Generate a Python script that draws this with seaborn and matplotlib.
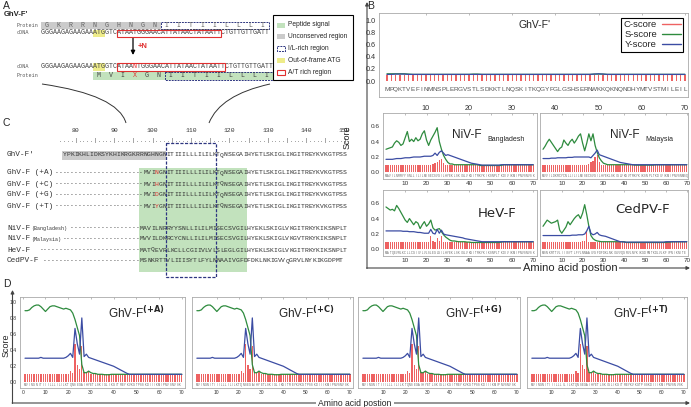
import matplotlib
matplotlib.use('Agg')
import matplotlib.pyplot as plt
from matplotlib.patches import Rectangle, PathPatch
from matplotlib.path import Path
from matplotlib.lines import Line2D
import seaborn as sns

sns.set_style('white')
plt.rcParams['font.family'] = ['Liberation Sans', 'DejaVu Sans']
MONO = 'Liberation Mono'

# ---------------- data ----------------
pos = list(range(1, 71))

# B, top panel (GhV-F')
c_ghv1 = [0.10, 0.10, 0.10, 0.10, 0.10, 0.10, 0.10, 0.10, 0.10, 0.10,
          0.10, 0.10, 0.10, 0.10, 0.10, 0.10, 0.10, 0.10, 0.10, 0.10,
          0.10, 0.10, 0.10, 0.10, 0.10, 0.10, 0.10, 0.10, 0.10, 0.10,
          0.10, 0.10, 0.10, 0.10, 0.10, 0.10, 0.10, 0.10, 0.10, 0.10,
          0.10, 0.10, 0.10, 0.10, 0.10, 0.10, 0.10, 0.10, 0.10, 0.10,
          0.10, 0.10, 0.10, 0.10, 0.10, 0.10, 0.10, 0.10, 0.10, 0.10,
          0.10, 0.10, 0.10, 0.10, 0.10, 0.10, 0.10, 0.10, 0.10, 0.10]
s_ghv1 = [0.12, 0.12, 0.12, 0.12, 0.12, 0.115, 0.11, 0.11, 0.11, 0.11,
          0.11, 0.11, 0.11, 0.11, 0.11, 0.11, 0.11, 0.11, 0.11, 0.11,
          0.115, 0.115, 0.11, 0.11, 0.11, 0.11, 0.11, 0.11, 0.11, 0.11,
          0.11, 0.11, 0.11, 0.11, 0.11, 0.11, 0.11, 0.11, 0.11, 0.11,
          0.11, 0.11, 0.11, 0.11, 0.11, 0.11, 0.11, 0.11, 0.115, 0.115,
          0.115, 0.11, 0.11, 0.11, 0.11, 0.11, 0.11, 0.11, 0.11, 0.11,
          0.11, 0.11, 0.11, 0.11, 0.11, 0.11, 0.11, 0.11, 0.11, 0.11]
y_ghv1 = [0.11, 0.11, 0.115, 0.115, 0.115, 0.11, 0.11, 0.11, 0.11, 0.11,
          0.11, 0.11, 0.11, 0.11, 0.11, 0.11, 0.11, 0.11, 0.11, 0.11,
          0.11, 0.11, 0.11, 0.11, 0.11, 0.11, 0.11, 0.11, 0.11, 0.11,
          0.11, 0.11, 0.11, 0.11, 0.11, 0.11, 0.11, 0.11, 0.11, 0.11,
          0.11, 0.11, 0.11, 0.11, 0.11, 0.11, 0.11, 0.11, 0.115, 0.12,
          0.115, 0.11, 0.11, 0.11, 0.11, 0.11, 0.11, 0.11, 0.11, 0.11,
          0.11, 0.11, 0.11, 0.11, 0.11, 0.11, 0.11, 0.11, 0.11, 0.11]
seq_ghv1 = "MPQKTVEFINMNSPLERGVSTLSDKKTLNQSKITKQGYFGLGSHSERNWKKQKNQNDHYMTVSTMILEIL"

# B, NiV-F Bangladesh
c_nivb = [0.10, 0.10, 0.10, 0.10, 0.10, 0.10, 0.10, 0.10, 0.10, 0.10,
          0.10, 0.10, 0.10, 0.10, 0.10, 0.10, 0.10, 0.10, 0.10, 0.10,
          0.10, 0.10, 0.11, 0.12, 0.14, 0.16, 0.18, 0.12, 0.10, 0.10,
          0.10, 0.10, 0.10, 0.10, 0.10, 0.10, 0.10, 0.10, 0.10, 0.10,
          0.10, 0.10, 0.10, 0.10, 0.10, 0.10, 0.10, 0.10, 0.10, 0.10,
          0.10, 0.10, 0.10, 0.10, 0.10, 0.10, 0.10, 0.10, 0.10, 0.10,
          0.10, 0.10, 0.10, 0.10, 0.10, 0.10, 0.10, 0.10, 0.10, 0.10]
s_nivb = [0.30, 0.31, 0.32, 0.33, 0.38, 0.41, 0.39, 0.35, 0.37, 0.45,
          0.53, 0.40, 0.43, 0.40, 0.45, 0.41, 0.43, 0.50, 0.54, 0.42,
          0.35, 0.42, 0.47, 0.52, 0.58, 0.40, 0.30, 0.22, 0.17, 0.13,
          0.11, 0.11, 0.10, 0.10, 0.10, 0.10, 0.10, 0.10, 0.10, 0.10,
          0.10, 0.10, 0.10, 0.10, 0.09, 0.09, 0.09, 0.09, 0.09, 0.09,
          0.09, 0.09, 0.09, 0.09, 0.09, 0.10, 0.10, 0.10, 0.10, 0.10,
          0.10, 0.10, 0.10, 0.10, 0.10, 0.10, 0.10, 0.10, 0.10, 0.10]
y_nivb = [0.17, 0.17, 0.17, 0.17, 0.175, 0.18, 0.18, 0.18, 0.185, 0.19,
          0.19, 0.19, 0.195, 0.20, 0.20, 0.20, 0.20, 0.205, 0.21, 0.21,
          0.21, 0.21, 0.22, 0.25, 0.22, 0.26, 0.28, 0.25, 0.22, 0.23,
          0.22, 0.21, 0.20, 0.19, 0.18, 0.17, 0.16, 0.15, 0.14, 0.13,
          0.12, 0.115, 0.11, 0.105, 0.10, 0.095, 0.095, 0.095, 0.095, 0.095,
          0.095, 0.095, 0.095, 0.095, 0.10, 0.10, 0.10, 0.10, 0.10, 0.10,
          0.10, 0.10, 0.10, 0.10, 0.10, 0.10, 0.10, 0.10, 0.10, 0.10]
seq_nivb = "MAVILNRRYYSNLLILILMISECSVGILHYEKLSKIGLVKGITRKYKIKSNPLTKDIVIKMIPNVSNVSK"

# B, NiV-F Malaysia
c_nivm = [0.10, 0.10, 0.10, 0.10, 0.10, 0.10, 0.10, 0.10, 0.10, 0.10,
          0.10, 0.10, 0.10, 0.10, 0.10, 0.10, 0.10, 0.10, 0.10, 0.10,
          0.10, 0.10, 0.11, 0.13, 0.15, 0.20, 0.22, 0.14, 0.10, 0.10,
          0.10, 0.10, 0.10, 0.10, 0.10, 0.10, 0.10, 0.10, 0.10, 0.10,
          0.10, 0.10, 0.10, 0.10, 0.10, 0.10, 0.10, 0.10, 0.10, 0.10,
          0.10, 0.10, 0.10, 0.10, 0.10, 0.10, 0.10, 0.10, 0.10, 0.10,
          0.10, 0.10, 0.10, 0.10, 0.10, 0.10, 0.10, 0.10, 0.10, 0.10]
s_nivm = [0.30, 0.34, 0.39, 0.43, 0.39, 0.35, 0.31, 0.27, 0.31, 0.33,
          0.42, 0.38, 0.35, 0.40, 0.43, 0.38, 0.42, 0.47, 0.50, 0.38,
          0.28, 0.38, 0.50, 0.41, 0.50, 0.35, 0.26, 0.19, 0.15, 0.12,
          0.11, 0.10, 0.10, 0.10, 0.10, 0.10, 0.10, 0.10, 0.10, 0.10,
          0.10, 0.10, 0.10, 0.10, 0.095, 0.095, 0.095, 0.095, 0.095, 0.095,
          0.095, 0.095, 0.095, 0.095, 0.10, 0.10, 0.10, 0.10, 0.10, 0.10,
          0.10, 0.10, 0.10, 0.10, 0.10, 0.10, 0.10, 0.10, 0.10, 0.10]
y_nivm = [0.18, 0.18, 0.18, 0.18, 0.185, 0.185, 0.185, 0.19, 0.19, 0.19,
          0.19, 0.19, 0.195, 0.195, 0.195, 0.20, 0.20, 0.20, 0.20, 0.20,
          0.20, 0.20, 0.20, 0.19, 0.22, 0.25, 0.29, 0.23, 0.22, 0.21,
          0.20, 0.19, 0.18, 0.17, 0.16, 0.15, 0.14, 0.13, 0.125, 0.12,
          0.115, 0.11, 0.105, 0.10, 0.10, 0.10, 0.10, 0.10, 0.10, 0.10,
          0.10, 0.10, 0.10, 0.10, 0.10, 0.10, 0.10, 0.10, 0.10, 0.10,
          0.10, 0.10, 0.10, 0.10, 0.10, 0.10, 0.10, 0.10, 0.10, 0.10]
seq_nivm = "MVVILDKRCYCNLLILILMISECSVGILHYEKLSKIGLVKGVTRKYKIKSNPLTKDIVIKMIPNVSNMSQ"

# B, HeV-F
c_hev = [0.10, 0.10, 0.10, 0.10, 0.10, 0.10, 0.10, 0.10, 0.10, 0.10,
         0.10, 0.10, 0.10, 0.10, 0.10, 0.10, 0.10, 0.10, 0.10, 0.10,
         0.10, 0.17, 0.11, 0.10, 0.15, 0.11, 0.17, 0.10, 0.10, 0.10,
         0.10, 0.10, 0.10, 0.10, 0.10, 0.10, 0.10, 0.10, 0.10, 0.10,
         0.10, 0.10, 0.10, 0.10, 0.10, 0.10, 0.10, 0.10, 0.10, 0.10,
         0.10, 0.10, 0.10, 0.10, 0.10, 0.10, 0.10, 0.10, 0.10, 0.10,
         0.10, 0.10, 0.10, 0.10, 0.10, 0.10, 0.10, 0.10, 0.10, 0.10]
s_hev = [0.55, 0.53, 0.51, 0.52, 0.50, 0.57, 0.53, 0.48, 0.43, 0.38,
         0.35, 0.40, 0.36, 0.32, 0.36, 0.34, 0.27, 0.32, 0.36, 0.30,
         0.33, 0.38, 0.28, 0.25, 0.26, 0.27, 0.23, 0.19, 0.16, 0.14,
         0.12, 0.11, 0.11, 0.105, 0.10, 0.10, 0.10, 0.10, 0.095, 0.095,
         0.09, 0.09, 0.09, 0.09, 0.09, 0.09, 0.09, 0.09, 0.09, 0.09,
         0.09, 0.09, 0.09, 0.09, 0.095, 0.10, 0.10, 0.10, 0.10, 0.10,
         0.10, 0.10, 0.10, 0.10, 0.10, 0.10, 0.10, 0.10, 0.10, 0.10]
y_hev = [0.24, 0.24, 0.24, 0.24, 0.24, 0.24, 0.24, 0.24, 0.235, 0.235,
         0.235, 0.23, 0.23, 0.23, 0.225, 0.22, 0.22, 0.215, 0.21, 0.21,
         0.21, 0.26, 0.21, 0.20, 0.26, 0.21, 0.25, 0.20, 0.19, 0.185,
         0.18, 0.175, 0.17, 0.165, 0.16, 0.155, 0.15, 0.14, 0.135, 0.13,
         0.125, 0.12, 0.115, 0.11, 0.105, 0.10, 0.10, 0.10, 0.10, 0.10,
         0.10, 0.10, 0.10, 0.10, 0.10, 0.10, 0.10, 0.10, 0.10, 0.10,
         0.10, 0.10, 0.10, 0.10, 0.10, 0.10, 0.10, 0.10, 0.10, 0.10]
seq_hev = "MATQEVRLKCLLCGIIVLVLSLEGLGILHYEKLSKIGLVKGITRKYKIKSNPLTKDIVIKMIPNVSNVSK"

# B, CedPV-F
c_ced = [0.10, 0.10, 0.10, 0.10, 0.10, 0.10, 0.10, 0.10, 0.10, 0.10,
         0.10, 0.10, 0.10, 0.10, 0.10, 0.10, 0.10, 0.10, 0.10, 0.11,
         0.11, 0.22, 0.10, 0.10, 0.10, 0.10, 0.10, 0.10, 0.10, 0.10,
         0.10, 0.10, 0.10, 0.10, 0.10, 0.10, 0.10, 0.10, 0.10, 0.10,
         0.10, 0.10, 0.10, 0.10, 0.10, 0.10, 0.10, 0.10, 0.10, 0.10,
         0.10, 0.10, 0.10, 0.10, 0.10, 0.10, 0.10, 0.10, 0.10, 0.10,
         0.10, 0.10, 0.10, 0.10, 0.10, 0.10, 0.10, 0.10, 0.10, 0.10]
s_ced = [0.30, 0.34, 0.38, 0.36, 0.34, 0.35, 0.36, 0.38, 0.25, 0.21,
         0.25, 0.29, 0.36, 0.32, 0.36, 0.40, 0.43, 0.45, 0.40, 0.47,
         0.58, 0.45, 0.30, 0.18, 0.14, 0.12, 0.11, 0.105, 0.10, 0.10,
         0.10, 0.10, 0.10, 0.10, 0.10, 0.10, 0.10, 0.10, 0.10, 0.10,
         0.09, 0.09, 0.09, 0.09, 0.09, 0.09, 0.09, 0.09, 0.09, 0.09,
         0.09, 0.09, 0.09, 0.09, 0.09, 0.09, 0.09, 0.09, 0.09, 0.09,
         0.095, 0.095, 0.10, 0.10, 0.10, 0.10, 0.10, 0.10, 0.10, 0.10]
y_ced = [0.18, 0.18, 0.18, 0.18, 0.18, 0.18, 0.18, 0.18, 0.18, 0.18,
         0.18, 0.18, 0.18, 0.18, 0.185, 0.185, 0.185, 0.19, 0.19, 0.19,
         0.20, 0.24, 0.30, 0.21, 0.19, 0.20, 0.22, 0.19, 0.18, 0.175,
         0.17, 0.16, 0.15, 0.14, 0.13, 0.12, 0.11, 0.10, 0.10, 0.095,
         0.095, 0.095, 0.095, 0.095, 0.095, 0.095, 0.095, 0.095, 0.095, 0.095,
         0.095, 0.095, 0.095, 0.095, 0.095, 0.095, 0.095, 0.095, 0.095, 0.10,
         0.10, 0.10, 0.10, 0.10, 0.10, 0.10, 0.10, 0.10, 0.10, 0.10]
seq_ced = "MSNKRTTVLIIISYTLFYLNNAAIVGFDFDKLNKIGVVQGRVLNYKIKGDPMTKDLVLKFIPNIKNITE"

# D, GhV-F frame-shift mutants (+A, +C, +G, +T)
c_mut = [0.10, 0.10, 0.10, 0.10, 0.10, 0.10, 0.10, 0.10, 0.10, 0.10,
         0.10, 0.10, 0.10, 0.10, 0.10, 0.10, 0.10, 0.10, 0.11, 0.11,
         0.14, 0.12, 0.48, 0.21, 0.16, 0.45, 0.13, 0.12, 0.13, 0.11,
         0.10, 0.10, 0.10, 0.10, 0.10, 0.10, 0.10, 0.10, 0.10, 0.10,
         0.10, 0.10, 0.10, 0.10, 0.10, 0.10, 0.10, 0.10, 0.10, 0.10,
         0.10, 0.10, 0.10, 0.10, 0.10, 0.10, 0.10, 0.10, 0.10, 0.10,
         0.10, 0.10, 0.10, 0.10, 0.10, 0.10, 0.10, 0.10, 0.10, 0.10]
s_mut = [0.89, 0.89, 0.90, 0.93, 0.95, 0.96, 0.96, 0.94, 0.91, 0.88,
         0.91, 0.94, 0.95, 0.95, 0.94, 0.93, 0.92, 0.91, 0.92, 0.91,
         0.90, 0.86, 0.78, 0.68, 0.58, 0.22, 0.12, 0.12, 0.14, 0.12,
         0.11, 0.11, 0.10, 0.10, 0.10, 0.095, 0.095, 0.095, 0.10, 0.10,
         0.10, 0.10, 0.10, 0.10, 0.10, 0.10, 0.10, 0.10, 0.10, 0.10,
         0.10, 0.10, 0.10, 0.10, 0.10, 0.10, 0.10, 0.10, 0.10, 0.10,
         0.10, 0.10, 0.10, 0.10, 0.10, 0.10, 0.10, 0.10, 0.10, 0.10]
y_mut = [0.30, 0.30, 0.30, 0.30, 0.30, 0.30, 0.30, 0.31, 0.30, 0.30,
         0.30, 0.30, 0.30, 0.30, 0.30, 0.30, 0.30, 0.30, 0.31, 0.33,
         0.36, 0.31, 0.67, 0.48, 0.35, 0.80, 0.32, 0.35, 0.31, 0.30,
         0.29, 0.28, 0.27, 0.26, 0.25, 0.24, 0.23, 0.22, 0.21, 0.20,
         0.185, 0.17, 0.155, 0.14, 0.125, 0.11, 0.10, 0.10, 0.10, 0.10,
         0.10, 0.10, 0.10, 0.10, 0.10, 0.10, 0.10, 0.10, 0.10, 0.10,
         0.10, 0.10, 0.10, 0.10, 0.10, 0.10, 0.10, 0.10, 0.10, 0.10]
seq_mut = "MVINGNITIIILLLILILKTQNSEGAIHYETLSKIGLIKGITREYKVKGTPSSKDIIIKMIPNVSNVSK"
mut_names = ['(+A)', '(+C)', '(+G)', '(+T)']

# A, nucleotide / protein rows
cdna1 = "GGGAAGAGAAGAAATGGTCATAATGGGAACATTATAACTATAATTCTGTTGTTGATT"
prot1 = "GKRRNGHNGNIITIILLLI"
cdna2 = "GGGAAGAGAAGAAATGGTCATAANTGGGAACATTATAACTATAATTCTGTTGTTGATT"
prot2 = "MVIXGNIITIILLLI"

# C, alignment rows: (label, sub-label, sequence, first position, red index)
aln_rows = [
    ("GhV-F'", '', "YPKIKHLIDKSYKHIKRGKRRNGHNGNITIIILLLILILKTQNSEGAIHYETLSKIGLIKGITREYKVKGTPSS", 77, None),
    ('GhV-F (+A)', '', "MVINGNITIIILLLILILKTQNSEGAIHYETLSKIGLIKGITREYKVKGTPSS", 98, 3),
    ('GhV-F (+C)', '', "MVIHGNITIIILLLILILKTQNSEGAIHYETLSKIGLIKGITREYKVKGTPSS", 98, 3),
    ('GhV-F (+G)', '', "MVIDGNITIIILLLILILKTQNSEGAIHYETLSKIGLIKGITREYKVKGTPSS", 98, 3),
    ('GhV-F (+T)', '', "MVIYGNITIIILLLILILKTQNSEGAIHYETLSKIGLIKGITREYKVKGTPSS", 98, 3),
    ('NiV-F', '(Bangladesh)', "MAVILNRRYYSNLLILILMISECSVGILHYEKLSKIGLVKGITRKYKIKSNPLT", 97, None),
    ('NiV-F', '(Malaysia)', "MVVILDKRCYCNLLILILMISECSVGILHYEKLSKIGLVKGVTRKYKIKSNPLT", 97, None),
    ('HeV-F', '', "MATQEVRLKCLLCGIIVLVLSLEGLGILHYEKLSKIGLVKGITRKYKIKSNPLT", 97, None),
    ('CedPV-F', '', "MSNKRTTVLIIISYTLFYLNNAAIVGFDFDKLNKIGVVQGRVLNYKIKGDPMT", 97, None),
]
aln_y = [155, 173, 184, 195, 206, 228, 239, 250, 261]
aln_dash_x = [None, 54, 54, 54, 54, 68, 62, 36, 43]

GREEN = '#2e8b3e'
BLUE = '#3b4ca3'
RED = '#ee6262'
NAVY = '#2d3580'
FILL_GREEN = '#c2e2bd'
FILL_GRAY = '#cbcbcb'
FILL_YEL = '#eeec8a'

W, H = 691, 407
fig = plt.figure(figsize=(W / 100, H / 100), dpi=100, facecolor='white')

# full-figure pixel overlay for text panels and arrows
ax0 = fig.add_axes([0, 0, 1, 1])
ax0.set_xlim(0, W)
ax0.set_ylim(H, 0)
ax0.axis('off')


def px_axes(l, t, r, b):
    return fig.add_axes([l / W, 1 - b / H, (r - l) / W, (b - t) / H])


def box(x0, y0, x1, y1, fc='none', ec='none', ls='-', lw=0.8, z=1):
    ax0.add_patch(Rectangle((x0, y0), x1 - x0, y1 - y0, fc=fc, ec=ec, ls=ls, lw=lw, zorder=z))


def letters(xs, y, s, fs, color='#444444', red=None):
    for i, ch in enumerate(s):
        if ch == ' ':
            continue
        col = '#e03030' if (red is not None and i == red) else color
        ax0.text(xs(i), y, ch, family=MONO, fontsize=fs, color=col,
                 ha='center', va='center', zorder=3)


# ---------------- panel A ----------------
ax0.text(3, 6, 'A', fontsize=7.5, va='center')
ax0.text(4, 15, "GhV-F'", fontsize=5.5, weight='bold', va='center')
cw_a = 4.0


def xa(i):
    return 42.7 + cw_a * i


for yy, lab in [(25.5, 'Protein'), (33, 'cDNA'), (67, 'cDNA'), (75.5, 'Protein')]:
    ax0.text(17, yy, lab, family=MONO, fontsize=3.7, color='#555555', va='center')

box(xa(-0.5), 22, xa(29.5), 29, fc=FILL_GRAY)
box(xa(29.5), 22, xa(56.5), 29, ec=NAVY, ls=(0, (2, 1)), lw=0.7)
box(xa(12.5), 29.5, xa(15.5), 36.5, fc=FILL_YEL)
box(xa(18.5), 29.5, xa(44.5), 36.8, ec='#e03030', lw=0.8, z=4)
letters(lambda k: xa(3 * k + 1), 25.5, prot1, 4.8, color='#666666')
letters(xa, 33, cdna1, 4.8)

ax0.annotate('', xy=(133, 55), xytext=(133, 38),
             arrowprops=dict(arrowstyle='-|>', color='black', lw=0.9, mutation_scale=6,
                             shrinkA=0, shrinkB=0))
ax0.text(138, 47, '+N', color='#e03030', fontsize=5.5, weight='bold', va='center')

box(xa(12.5), 63, xa(15.5), 70.5, fc=FILL_YEL)
box(xa(18.5), 63, xa(45.5), 71, ec='#e03030', lw=0.8, z=4)
box(xa(12.5), 71.5, xa(57.5), 79.5, fc=FILL_GREEN)
box(xa(30.5), 71.5, xa(57.5), 79.5, ec=NAVY, ls=(0, (2, 1)), lw=0.7)
letters(xa, 67, cdna2, 4.8, red=23)
letters(lambda k: xa(13 + 3 * k + 1), 75.5, prot2, 4.8, red=3)

# legend box of panel A
box(273, 15, 353, 80, ec='black', lw=0.8)
leg_items = [('Peptide signal', dict(fc=FILL_GREEN)),
             ('Unconserved region', dict(fc=FILL_GRAY)),
             ('I/L-rich region', dict(ec=NAVY, ls=(0, (2, 1)), lw=0.7)),
             ('Out-of-frame ATG', dict(fc=FILL_YEL)),
             ('A/T rich region', dict(ec='#e03030', lw=0.8))]
for k, (lab, kw) in enumerate(leg_items):
    yy = 25 + 11.8 * k
    box(277, yy - 2.5, 285, yy + 2.5, **kw)
    ax0.text(288, yy, lab, fontsize=4.8, va='center')

# connectors from A to C
for verts in ([(42, 84), (118, 95), (126, 123)], [(270, 84), (220, 95), (209, 123)]):
    ax0.add_patch(PathPatch(Path(verts, [Path.MOVETO, Path.CURVE3, Path.CURVE3]),
                            fill=False, ec='#333333', lw=0.7))

# ---------------- panel C ----------------
ax0.text(3, 123, 'C', fontsize=7.5, va='center')
cw_c = 3.84


def xc(p):
    return 76 + (p - 80) * cw_c


for p in range(80, 151, 10):
    ax0.text(xc(p), 130, str(p), family=MONO, fontsize=4.6, color='#333333',
             ha='center', va='center')
for p in range(76, 151):
    ax0.text(xc(p), 140.5, '|' if p % 5 == 0 else '.', family=MONO, fontsize=3.6,
             color='#444444', ha='center', va='center')

box(xc(96.5), 168, xc(124.5), 272, fc=FILL_GREEN, z=0.5)
box(xc(76.5) - 1, 150.5, xc(103.5), 160, fc=FILL_GRAY, z=0.5)
box(xc(103.5), 143, xc(116.5), 277, ec=NAVY, ls=(0, (2.5, 1.2)), lw=0.9, z=4)

for (lab, sub, seq, start, red), yy, dx in zip(aln_rows, aln_y, aln_dash_x):
    ax0.text(7, yy, lab, family=MONO, fontsize=5.6, color='#333333', va='center')
    if sub:
        ax0.text(31, yy + 0.5, sub, family=MONO, fontsize=3.6, color='#333333', va='center')
    if dx is not None:
        first = int(round((dx - 76) / cw_c + 80)) + 1
        dashes = '-' * (start - first)
        letters(lambda i: xc(first + i), yy, dashes, 4.6, color='#333333')
    letters(lambda i: xc(start + i), yy, seq, 4.6, color='#333333', red=red)

# ---------------- panel B ----------------
ax0.text(367, 6, 'B', fontsize=7.5, va='center')
ax0.text(347, 137, 'Score', rotation=90, fontsize=6.5, ha='center', va='center')
arrow_kw = dict(arrowstyle='-|>', color='#444444', lw=0.8, mutation_scale=5, shrinkA=0, shrinkB=0)
ax0.annotate('', xy=(367, 2), xytext=(367, 268.5), arrowprops=arrow_kw)
ax0.annotate('', xy=(690, 268), xytext=(366.6, 268), arrowprops=arrow_kw)
ax0.text(570, 268, 'Amino acid postion', fontsize=8, ha='center', va='center',
         bbox=dict(fc='white', ec='none', pad=1.5), zorder=5)

# ---------------- panel D frame ----------------
ax0.text(3, 284, 'D', fontsize=7.5, va='center')
ax0.text(6, 345, 'Score', rotation=90, fontsize=6.5, ha='center', va='center')
ax0.annotate('', xy=(12.5, 290), xytext=(12.5, 403.5), arrowprops=arrow_kw)
ax0.annotate('', xy=(690, 403), xytext=(12.1, 403), arrowprops=arrow_kw)
ax0.text(355, 403, 'Amino acid postion', fontsize=6.2, ha='center', va='center',
         bbox=dict(fc='white', ec='none', pad=1.5), zorder=5)


def score_panel(rect, c, s, y, seq, xlim, ylim, yticks, xticks, bar_w, seq_y, seq_fs,
                tick_fs, show_y=True, xpad=1.5):
    ax = px_axes(*rect)
    sns.barplot(x=pos, y=c, native_scale=True, color=RED, saturation=1, width=bar_w,
                errorbar=None, linewidth=0, ax=ax)
    sns.lineplot(x=pos, y=s, color=GREEN, lw=0.9, ax=ax)
    sns.lineplot(x=pos, y=y, color=BLUE, lw=0.9, ax=ax)
    for xi, ch in zip(pos, seq):
        ax.text(xi, seq_y, ch, fontsize=seq_fs, ha='center', va='center', color='#555555')
    ax.set_xlim(*xlim)
    ax.set_ylim(*ylim)
    ax.set_xlabel('')
    ax.set_ylabel('')
    ax.set_xticks(xticks)
    ax.set_yticks(yticks)
    ax.set_yticklabels(['%.1f' % v for v in yticks] if show_y else [])
    ax.tick_params(axis='x', direction='in', length=1.5, width=0.4, color='#888888',
                   labelsize=tick_fs, pad=xpad, top=True, labelcolor='#333333')
    ax.tick_params(axis='y', direction='out', length=1.5, width=0.4, color='#666666',
                   labelsize=tick_fs, pad=1, labelcolor='#333333')
    for sp in ax.spines.values():
        sp.set_color('#aaaaaa')
        sp.set_linewidth(0.6)
    return ax


# top panel
axt = score_panel((379, 13, 688, 97), c_ghv1, s_ghv1, y_ghv1, seq_ghv1, (-0.85, 70.7),
                  (-0.26, 1.115), [0.0, 0.2, 0.4, 0.6, 0.8, 1.0], [10, 20, 30, 40, 50, 60, 70],
                  0.3, -0.13, 4.6, 5.2, xpad=6)
axt.text(0.505, 0.857, "GhV-F'", transform=axt.transAxes, fontsize=7.5, ha='center', va='center')
handles = [Line2D([], [], color=RED, lw=1), Line2D([], [], color=GREEN, lw=1),
           Line2D([], [], color=BLUE, lw=1)]
leg = axt.legend(handles, ['C-score', 'S-score', 'Y-score'], loc='upper right',
                 bbox_to_anchor=(0.985, 0.945), fontsize=6.8, markerfirst=False,
                 handlelength=2.0, handletextpad=0.5, labelspacing=0.1, borderpad=0.3,
                 borderaxespad=0, fancybox=False, framealpha=1)
leg.get_frame().set_edgecolor('black')
leg.get_frame().set_linewidth(0.8)

small_ylim = (-0.085, 0.77)
small_yt = [0.0, 0.2, 0.4, 0.6]
small_xt = [10, 20, 30, 40, 50, 60, 70]
ax1 = score_panel((383, 113, 537, 179), c_nivb, s_nivb, y_nivb, seq_nivb, (-0.4, 71.8),
                  small_ylim, small_yt, small_xt, 0.6, -0.04, 1.8, 4.6)
ax1.text(0.45, 0.67, 'NiV-F', transform=ax1.transAxes, fontsize=8.5, va='center')
ax1.text(0.675, 0.6, 'Bangladesh', transform=ax1.transAxes, fontsize=5, va='center')
ax2 = score_panel((540, 113, 688, 179), c_nivm, s_nivm, y_nivm, seq_nivm, (-0.45, 70.6),
                  small_ylim, small_yt, small_xt, 0.6, -0.04, 1.8, 4.6, show_y=False)
ax2.text(0.47, 0.67, 'NiV-F', transform=ax2.transAxes, fontsize=8.5, va='center')
ax2.text(0.71, 0.6, 'Malaysia', transform=ax2.transAxes, fontsize=5, va='center')
ax3 = score_panel((383, 190, 537, 256), c_hev, s_hev, y_hev, seq_hev, (-0.4, 71.8),
                  small_ylim, small_yt, small_xt, 0.6, -0.04, 1.8, 4.6)
ax3.text(0.74, 0.65, 'HeV-F', transform=ax3.transAxes, fontsize=9.5, ha='center',
         va='center', family='DejaVu Sans')
ax4 = score_panel((540, 190, 688, 256), c_ced, s_ced, y_ced, seq_ced, (-0.45, 70.6),
                  small_ylim, small_yt, small_xt, 0.6, -0.04, 1.8, 4.6, show_y=False)
ax4.text(0.69, 0.7, 'CedPV-F', transform=ax4.transAxes, fontsize=9.5, ha='center',
         va='center', family='DejaVu Sans')

# ---------------- panel D ----------------
d_rects = [(20, 297, 185, 388), (192, 297, 353, 388), (358, 297, 520, 388), (527, 297, 687, 388)]
for k, (rect, name) in enumerate(zip(d_rects, mut_names)):
    xt = [0, 10, 20, 30, 40, 50, 60, 70] if k == 0 else [10, 20, 30, 40, 50, 60, 70]
    axd = score_panel(rect, c_mut, s_mut, y_mut, seq_mut, (-1.2, 71.4), (-0.07, 1.06),
                      [0.0, 0.2, 0.4, 0.6, 0.8, 1.0], xt, 0.6, -0.03, 1.8, 3.6,
                      show_y=(k == 0), xpad=1.2)
    axd.text(0.535, 0.82, r'GhV-F$^{\mathbf{' + name + '}}$', transform=axd.transAxes,
             fontsize=8.5, va='center')

fig.savefig('out.png', dpi=100, facecolor='white')
